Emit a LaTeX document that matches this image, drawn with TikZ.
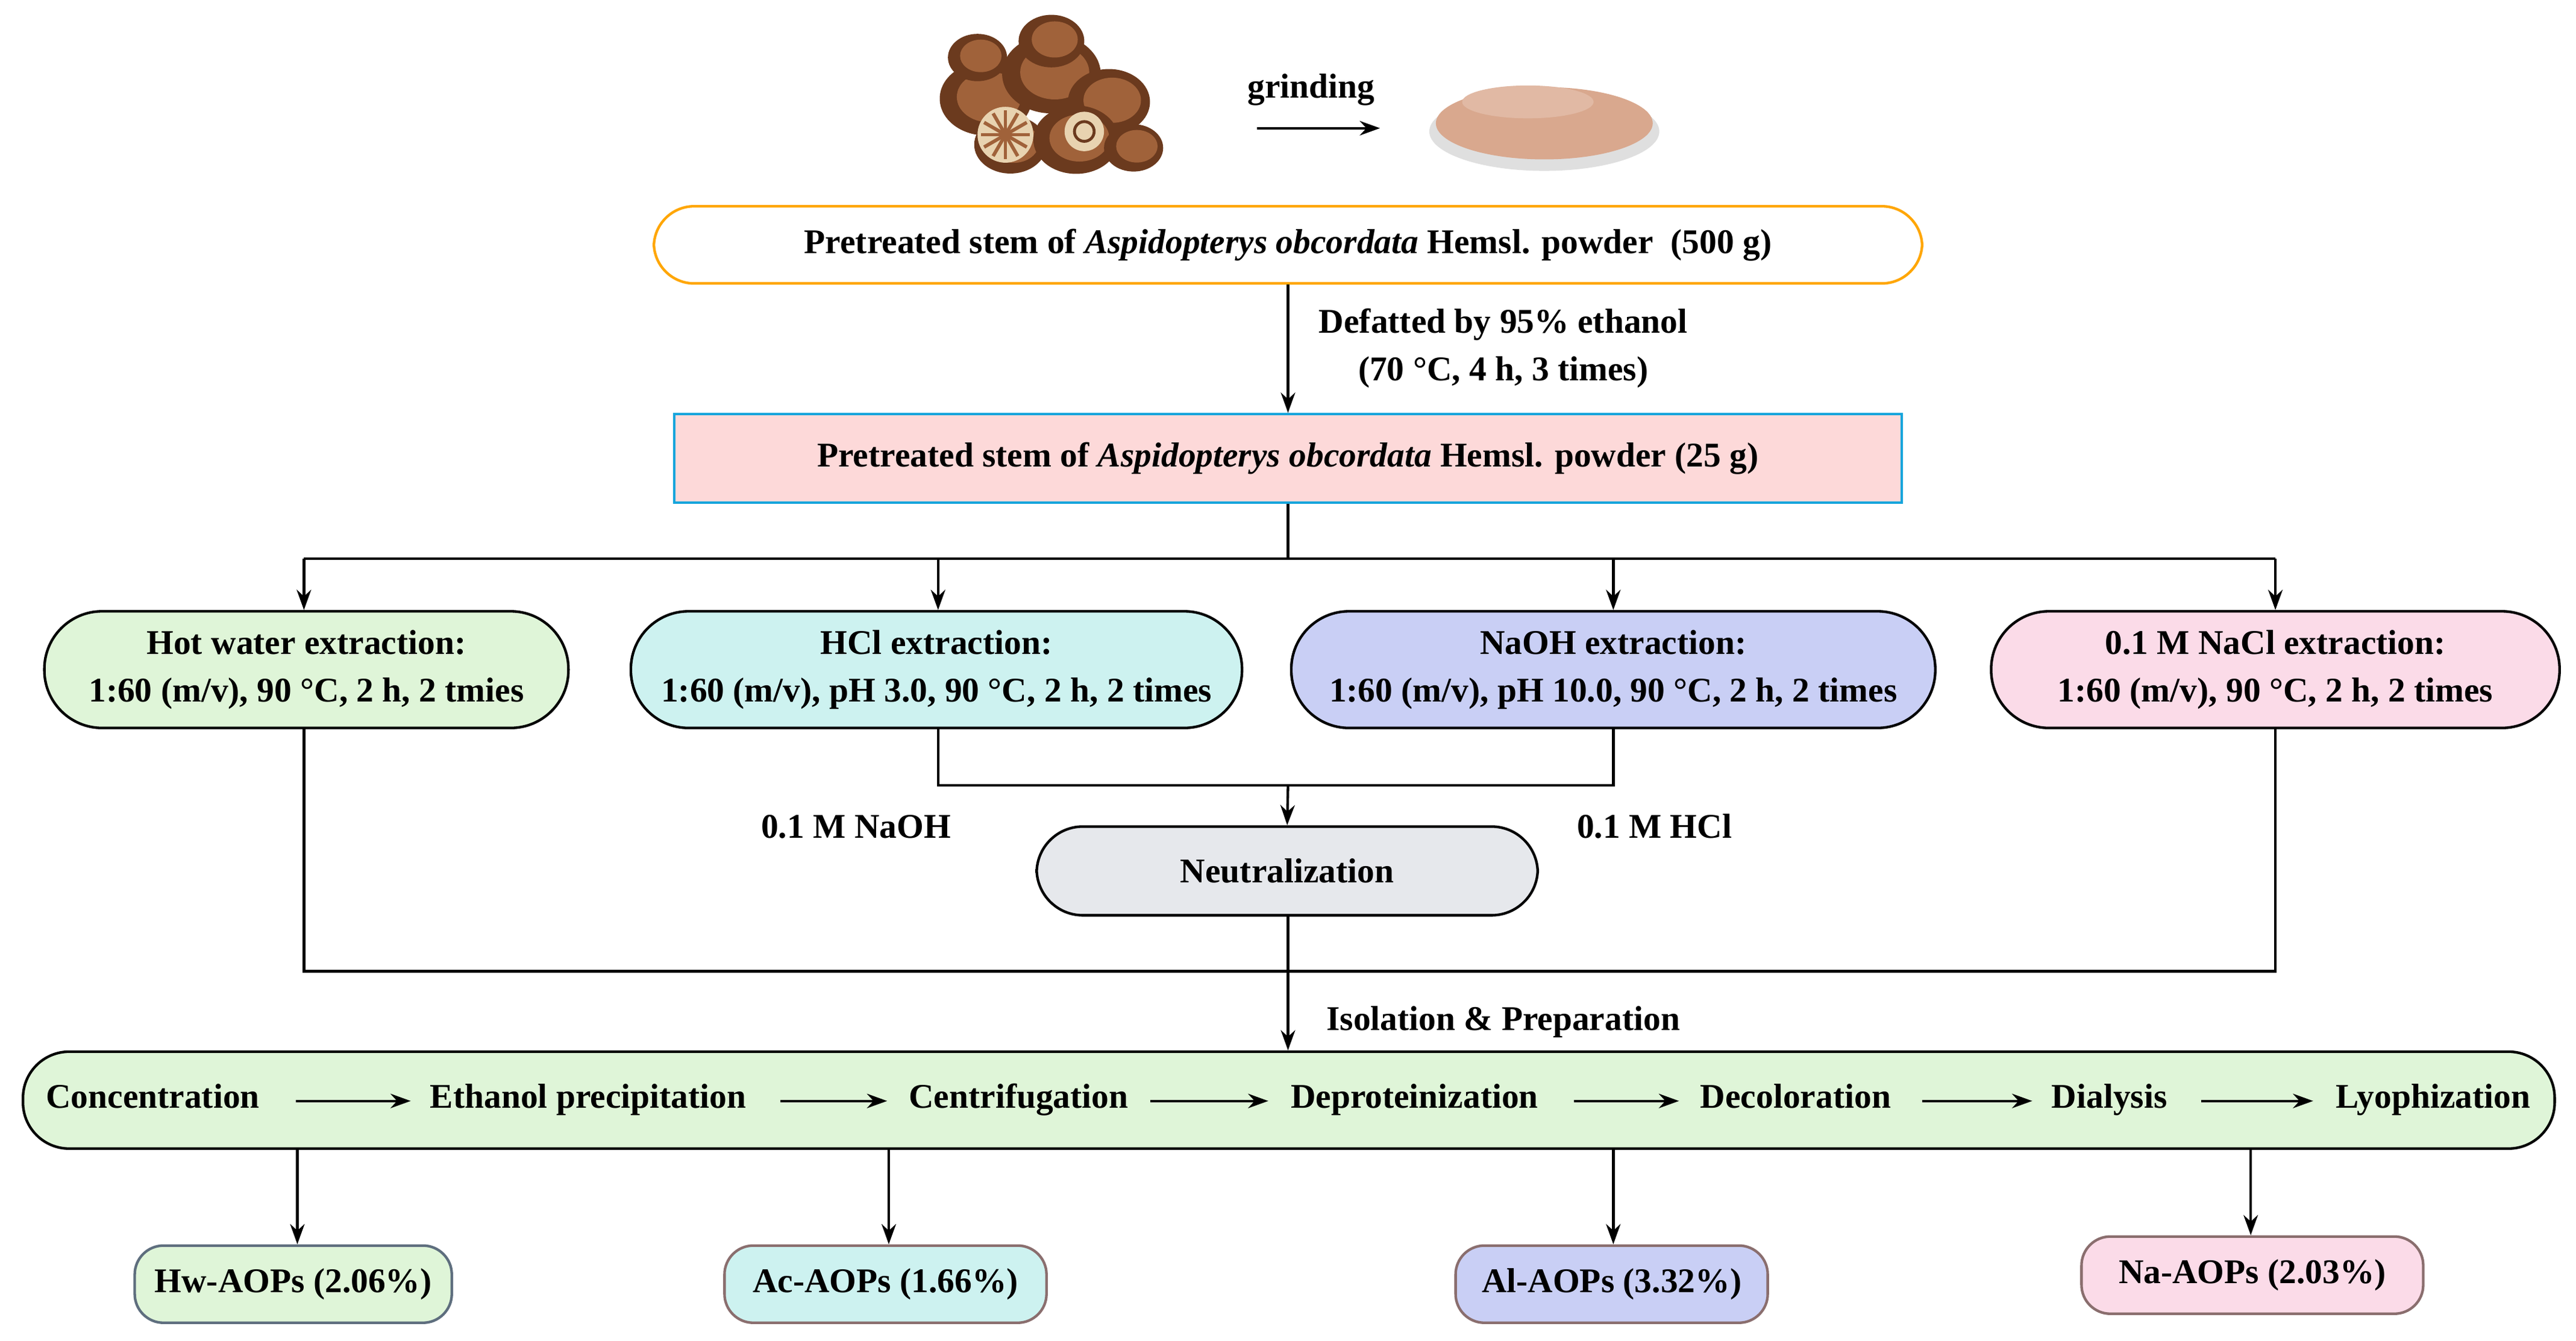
\documentclass[tikz,border=0pt]{standalone}
\usepackage{fontspec}
\setmainfont{Liberation Serif}
\usetikzlibrary{arrows.meta}
\definecolor{gfill}{HTML}{DFF5D8}
\definecolor{cfill}{HTML}{CDF2F0}
\definecolor{lfill}{HTML}{C9CFF5}
\definecolor{pfill}{HTML}{FBDBE8}
\definecolor{nfill}{HTML}{E6E8EC}
\definecolor{rfill}{HTML}{FDD9D9}
\definecolor{bord}{HTML}{8A6E6E}
\definecolor{bordb}{HTML}{5E6E7E}
\definecolor{brown1}{HTML}{6B3A1E}
\definecolor{brown2}{HTML}{A0623A}
\definecolor{cream}{HTML}{E8D3B0}
\definecolor{powder}{HTML}{D9A88E}
\begin{document}
\begin{tikzpicture}[x=0.02cm,y=-0.02cm,
  font=\fontsize{12}{13.5}\selectfont\bfseries,
  arr/.style={-{Stealth[length=7pt,width=5pt]},line width=0.9pt},
  ln/.style={line width=0.9pt},
  bx/.style={draw,line width=0.9pt,rounded corners=14pt,align=center,inner sep=0pt},
  stp/.style={inner sep=1pt,text height=1.6ex,text depth=0.5ex}]
\useasboundingbox (0,0) rectangle (1568,816);
% stem pile
\foreach \x/\y/\r in {600/60/28,640/45/30,675/62/25,615/88/22,655/85/26,690/90/18,595/35/18,640/25/20}{
  \fill[brown1] (\x,\y) ellipse ({\r} and {0.8*\r});
  \fill[brown2] (\x+2,\y-1) ellipse ({0.7*\r} and {0.55*\r});}
\fill[cream] (612,82) circle (17);
\foreach \a in {0,30,...,330}\draw[brown2,line width=1.2pt] (612,82) -- ++(\a:15);
\fill[cream] (660,80) circle (12);
\draw[brown1,line width=1pt] (660,80) circle (6);
% powder
\fill[gray!25] (940,80) ellipse (70 and 24);
\fill[powder] (940,75) ellipse (66 and 22);
\fill[powder!80!white] (930,62) ellipse (40 and 10);
\node[stp] (gr) at (798,55) {grinding};
\coordinate (g1) at (765,78); \coordinate (g2) at (840,78);
\draw[arr] (g1) -- (g2);
% box 1
\node[bx,draw=orange!70!yellow,fill=white,minimum width=772*0.02cm,minimum height=47*0.02cm] (b1) at (784,149)
 {Pretreated stem of \textit{Aspidopterys obcordata} Hemsl. powder\ \ (500 g)};
\node[bx,draw=cyan!80!teal,fill=rfill,rounded corners=0pt,minimum width=747*0.02cm,minimum height=54*0.02cm] (b2) at (784,279)
 {Pretreated stem of \textit{Aspidopterys obcordata} Hemsl. powder (25 g)};
\draw[arr] (b1) -- (b2);
\node[align=center] at (915,212) {Defatted by 95\% ethanol\\[3pt](70 °C, 4 h, 3 times)};
% four boxes
\node[bx,fill=gfill,rounded corners=20pt,minimum width=319*0.02cm,minimum height=71*0.02cm] (A) at (186.5,407.5) {Hot water extraction:\\[3pt]1:60 (m/v), 90 °C, 2 h, 2 tmies};
\node[bx,fill=cfill,rounded corners=20pt,minimum width=372*0.02cm,minimum height=71*0.02cm] (B) at (570,407.5) {HCl extraction:\\[3pt]1:60 (m/v), pH 3.0, 90 °C, 2 h, 2 times};
\node[bx,fill=lfill,rounded corners=20pt,minimum width=392*0.02cm,minimum height=71*0.02cm] (C) at (982,407.5) {NaOH extraction:\\[3pt]1:60 (m/v), pH 10.0, 90 °C, 2 h, 2 times};
\node[bx,fill=pfill,rounded corners=20pt,minimum width=346*0.02cm,minimum height=71*0.02cm] (D) at (1385,407.5) {0.1 M NaCl extraction:\\[3pt]1:60 (m/v), 90 °C, 2 h, 2 times};
\coordinate (s) at (784,340);
\draw[ln] (b2.south) -- (s);
\draw[ln] (185,340) -- (1385,340);
\draw[arr] (185,340) -- (A.north -| 185,0);
\draw[arr] (571,340) -- (B.north -| 571,0);
\draw[arr] (982,340) -- (C.north);
\draw[arr] (1385,340) -- (D.north);
% neutralization
\node[bx,fill=nfill,rounded corners=16pt,minimum width=305*0.02cm,minimum height=54*0.02cm] (N) at (783.5,530) {Neutralization};
\draw[ln] (B.south -| 571,0) -- (571,478) -- (982,478) -- (C.south);
\draw[arr] (784,478) -- (N.north);
\node at (521,503) {0.1 M NaOH};
\node at (1007,503) {0.1 M HCl};
% big box
\node[bx,fill=gfill,rounded corners=16pt,minimum width=1541*0.02cm,minimum height=59*0.02cm] (P) at (784.5,669.5) {};
\draw[ln] (A.south -| 185,0) -- (185,591) -- (1385,591) -- (D.south);
\draw[arr] (N.south -| 784,0) -- (P.north -| 784,0);
\node at (915,622) {Isolation \& Preparation};
\node[stp] (p1) at (93,670) {Concentration};
\node[stp] (p2) at (358,670) {Ethanol precipitation};
\node[stp] (p3) at (620,670) {Centrifugation};
\node[stp] (p4) at (861,670) {Deproteinization};
\node[stp] (p5) at (1093,670) {Decoloration};
\node[stp] (p6) at (1284,670) {Dialysis};
\node[stp] (p7) at (1481,670) {Lyophization};
\draw[arr] (180,670) -- (250,670);
\draw[arr] (475,670) -- (540,670);
\draw[arr] (700,670) -- (772,670);
\draw[arr] (958,670) -- (1022,670);
\draw[arr] (1170,670) -- (1237,670);
\draw[arr] (1340,670) -- (1408,670);
% results
\node[bx,draw=bordb,fill=gfill,rounded corners=10pt,minimum width=193*0.02cm,minimum height=47*0.02cm] (r1) at (178.5,781.5) {Hw-AOPs (2.06\%)};
\node[bx,draw=bord,fill=cfill,rounded corners=10pt,minimum width=196*0.02cm,minimum height=47*0.02cm] (r2) at (539,781.5) {Ac-AOPs (1.66\%)};
\node[bx,draw=bord,fill=lfill,rounded corners=10pt,minimum width=190*0.02cm,minimum height=47*0.02cm] (r3) at (981,781.5) {Al-AOPs (3.32\%)};
\node[bx,draw=bord,fill=pfill,rounded corners=10pt,minimum width=208*0.02cm,minimum height=47*0.02cm] (r4) at (1371,776) {Na-AOPs (2.03\%)};
\draw[arr] (P.south -| 181,0) -- (r1.north -| 181,0);
\draw[arr] (P.south -| 541,0) -- (r2.north -| 541,0);
\draw[arr] (P.south -| 982,0) -- (r3.north -| 982,0);
\draw[arr] (P.south -| 1370,0) -- (r4.north -| 1370,0);
\end{tikzpicture}
\end{document}
